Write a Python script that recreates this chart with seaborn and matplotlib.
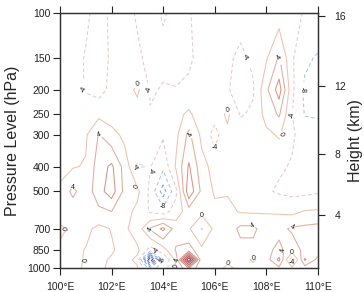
import numpy as np
import matplotlib
matplotlib.use("Agg")
import matplotlib.pyplot as plt
from matplotlib.ticker import NullLocator, FixedLocator
import seaborn as sns

# ---------------- data ----------------
lons = [100.0, 100.5, 101.0, 101.5, 102.0, 102.5, 103.0, 103.5, 104.0, 104.5, 105.0,
        105.5, 106.0, 106.5, 107.0, 107.5, 108.0, 108.5, 109.0, 109.5, 110.0]
plevs = [100, 150, 200, 250, 300, 400, 500, 600, 700, 850, 925, 1000]

v100  = [-2.0, -2.5, -3.5, -5.0, -3.5, -3.0, -4.3, -4.6, -3.8, -4.5, -4.2, -3.0, -2.5, -2.5, -3.0, -2.8, -2.5, -2.0, -3.2, -4.2, -4.5]
v150  = [-2.5, -3.0, -4.2, -5.5, -3.5, -3.0, -3.5, -4.8, -4.6, -4.8, -4.4, -3.2, -3.0, -3.5, -4.6, -3.5, -0.5, 4.5, -3.5, -7.0, -8.5]
v200  = [-2.5, -3.0, -4.2, -5.5, -3.0, -2.0, 0.8, -4.3, -3.8, -3.9, -3.5, -3.5, -3.2, -3.8, -5.0, -4.3, 3.0, 10.0, -3.0, -9.0, -9.0]
v250  = [-2.0, -2.5, -2.5, -1.0, -2.0, -2.5, -2.0, -3.8, -2.5, -1.5, 1.0, -3.0, -2.5, 0.8, -4.3, -3.5, 1.5, 4.5, -3.9, -8.2, -8.5]
v300  = [-2.0, -1.5, -0.5, 4.2, 1.5, -1.0, -2.0, -2.5, -3.5, -1.0, 5.0, -1.0, -5.5, -1.0, -2.0, -2.0, -1.0, 0.5, -3.5, -5.5, -6.0]
v400  = [-1.5, -0.3, 0.3, 6.0, 8.8, 2.5, -4.3, -3.8, -7.0, 0.5, 8.5, 1.5, -1.5, -2.0, -2.0, -2.5, -2.5, -3.5, -4.3, -4.5, -5.0]
v500  = [1.0, 5.0, 1.5, 6.5, 10.0, 3.0, 1.0, -5.0, -14.0, -5.0, 11.0, 3.0, -0.5, -0.3, -1.0, -2.0, -3.5, -4.5, -5.0, -5.0, -4.5]
v600  = [1.5, 1.5, 1.0, 3.0, 4.0, 1.5, -1.0, -4.5, -6.0, -2.0, 2.0, 1.0, 1.0, 1.0, -0.3, -0.5, -0.2, -0.5, -1.0, 0.3, 0.5]
v700  = [-0.5, 0.5, 1.0, -1.0, 0.2, 1.0, -2.5, 4.5, 9.0, 2.0, 0.5, -4.2, 1.0, 1.5, 5.0, 5.0, 1.5, 3.0, 4.5, 5.0, 5.5]
v850  = [0.5, 1.0, -0.2, -1.0, -0.5, 1.5, 1.0, -6.0, -2.0, 4.5, 6.0, 1.0, 0.5, 1.0, 2.5, 2.5, 3.0, 5.0, 2.0, 5.0, 6.0]
v925  = [1.0, 1.5, -0.5, -1.0, 0.5, 1.5, -1.0, -28.0, -8.0, 1.0, 28.0, 0.5, 1.5, 0.5, 1.5, -0.5, 2.0, 9.0, -7.0, 8.5, 3.0]
v1000 = [0.5, 1.0, -0.5, -0.5, 0.5, 1.0, 0.5, -10.0, -6.0, -0.5, 8.0, 0.5, 1.0, -0.5, 0.5, 1.0, 1.5, 3.0, 1.0, 2.0, 1.5]

rows = [v100, v150, v200, v250, v300, v400, v500, v600, v700, v850, v925, v1000]

pticks = [100, 150, 200, 250, 300, 400, 500, 700, 850, 1000]
lon_ticks = [100, 102, 104, 106, 108, 110]
height_ticks = [4, 8, 12, 16]
contour_levels = [-28, -24, -20, -16, -12, -8, -4, 0, 4, 8, 12, 16, 20, 24, 28]
labelled_levels = [-8, -4, 0, 4]

# ---------------- style ----------------
sns.set_theme(style="ticks")
plt.rcParams['font.family'] = ['Liberation Sans', 'DejaVu Sans']

neg_pal = sns.blend_palette(["#3c4299", "#6a80c4", "#a9c6e2"], 6)   # -28 .. -8
pos_pal = sns.blend_palette(["#efc2b0", "#d9998a", "#c27466", "#a84f58", "#7a2550"], 8)  # 0 .. 28
level_colors = list(neg_pal) + ["#e8c9c6"] + list(pos_pal)

fig = plt.figure(figsize=(3.64, 2.92), dpi=100)
ax = fig.add_axes([60 / 364, 1 - 268.3 / 292, (317.7 - 60) / 364, (268.3 - 12.7) / 292])

Z = np.array(rows)
X, Y = np.meshgrid(lons, plevs)
for lev, col in zip(contour_levels, level_colors):
    ls = (0, (3.5, 2.5)) if lev < 0 else "solid"
    cs = ax.contour(X, Y, Z, levels=[lev], colors=[col], linewidths=0.75,
                    linestyles=[ls])
    if lev in labelled_levels:
        ax.clabel(cs, fontsize=5, colors="k", fmt="%d", inline=True,
                  inline_spacing=1)

ax.set_yscale("log")
ax.set_ylim(1000, 100)
ax.set_xlim(100, 110)
ax.yaxis.set_major_locator(FixedLocator(pticks))
ax.yaxis.set_minor_locator(NullLocator())
ax.set_yticklabels([str(p) for p in pticks])
ax.set_xticks(lon_ticks)
ax.set_xticklabels([f"{t}°E" for t in lon_ticks])
ax.tick_params(axis="both", which="major", direction="out", length=5, width=0.8,
               labelsize=7.5, colors="#222222", pad=2, top=True, right=False)
ax.tick_params(axis="x", pad=5)
ax.set_ylabel("Pressure Level (hPa)", fontsize=11.5, labelpad=5)
for s in ax.spines.values():
    s.set_linewidth(0.9)
    s.set_color("#333333")

# right axis: standard-atmosphere height
def p_of_h(h_km):
    h = h_km * 1000.0
    if h <= 11000:
        return 1013.25 * (1 - 0.0065 * h / 288.15) ** 5.2559
    return 226.32 * np.exp(-9.80665 * (h - 11000) / (287.05 * 216.65))

ax2 = ax.twinx()
ax2.set_yscale("log")
ax2.set_ylim(1000, 100)
ax2.yaxis.set_major_locator(FixedLocator([p_of_h(h) for h in height_ticks]))
ax2.yaxis.set_minor_locator(NullLocator())
ax2.set_yticklabels([str(h) for h in height_ticks])
ax2.tick_params(axis="y", direction="out", length=5, width=0.8, labelsize=7.5,
                colors="#222222", pad=7)
ax2.set_ylabel("Height (km)", fontsize=11.5, labelpad=1)
for s in ax2.spines.values():
    s.set_linewidth(0.9)
    s.set_color("#333333")

fig.savefig("out.png", dpi=100)
